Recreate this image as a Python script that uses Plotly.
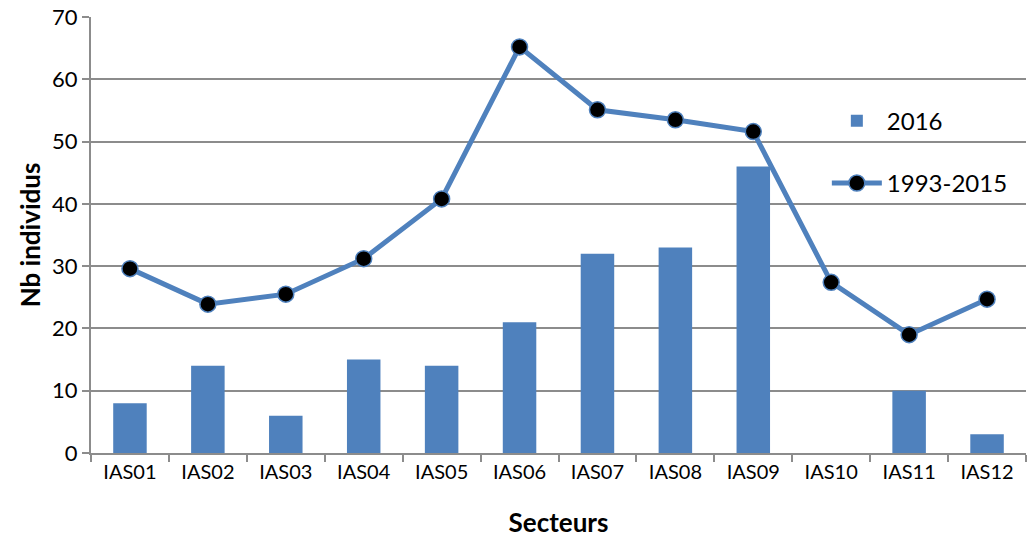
import plotly.graph_objects as go

categories = ["IAS01", "IAS02", "IAS03", "IAS04", "IAS05", "IAS06",
              "IAS07", "IAS08", "IAS09", "IAS10", "IAS11", "IAS12"]
values_2016 = [8, 14, 6, 15, 14, 21, 32, 33, 46, 0, 10, 3]
values_1993_2015 = [29.6, 23.9, 25.5, 31.2, 40.8, 65.2, 55.1, 53.5, 51.6, 27.4, 19.0, 24.7]
y_ticks = [0, 10, 20, 30, 40, 50, 60, 70]

BLUE = "#4F81BD"
GRID = "#8C8C8C"
FONT = "Lato"

fig = go.Figure()
fig.add_trace(go.Bar(
    x=categories, y=values_2016, name="2016",
    marker=dict(color=BLUE, line=dict(width=0)),
    legendgroup="a",
))
fig.add_trace(go.Scatter(
    x=categories, y=values_1993_2015, name="1993-2015",
    mode="lines+markers",
    line=dict(color=BLUE, width=5),
    marker=dict(color="black", size=16, line=dict(color=BLUE, width=1.5)),
    legendgroup="b",
))

fig.update_layout(
    width=1035, height=541,
    margin=dict(l=91, r=9, t=17, b=88),
    plot_bgcolor="white", paper_bgcolor="white",
    bargap=0.57,
    font=dict(family=FONT, color="black", size=20),
    showlegend=True,
    legend=dict(
        x=0.787, y=0.8125, xanchor="left", yanchor="top",
        bgcolor="rgba(0,0,0,0)", font=dict(size=24, family=FONT),
        tracegroupgap=28, itemwidth=50,
    ),
    xaxis=dict(
        type="category", automargin=False,
        range=[-0.5, len(categories) - 0.5],
        showline=True, linecolor=GRID, linewidth=2,
        ticks="outside", tickson="boundaries", ticklen=7, tickcolor=GRID, tickwidth=2,
        showgrid=False,
        tickfont=dict(size=20, family=FONT),
        title=dict(text="<b>Secteurs</b>", font=dict(size=26, family=FONT), standoff=32),
    ),
    yaxis=dict(
        range=[0, 70.001], tickvals=y_ticks, automargin=False,
        showline=True, linecolor=GRID, linewidth=2,
        ticks="outside", ticklen=7, tickcolor=GRID, tickwidth=2,
        showgrid=True, gridcolor=GRID, gridwidth=1.5,
        zeroline=False,
        tickfont=dict(size=22, family=FONT),
        title=dict(text="<b>Nb individus</b>", font=dict(size=26, family=FONT), standoff=4),
    ),
)

fig.write_html("out.html", config={"displayModeBar": False},
               post_script="document.body.style.margin='0';")
